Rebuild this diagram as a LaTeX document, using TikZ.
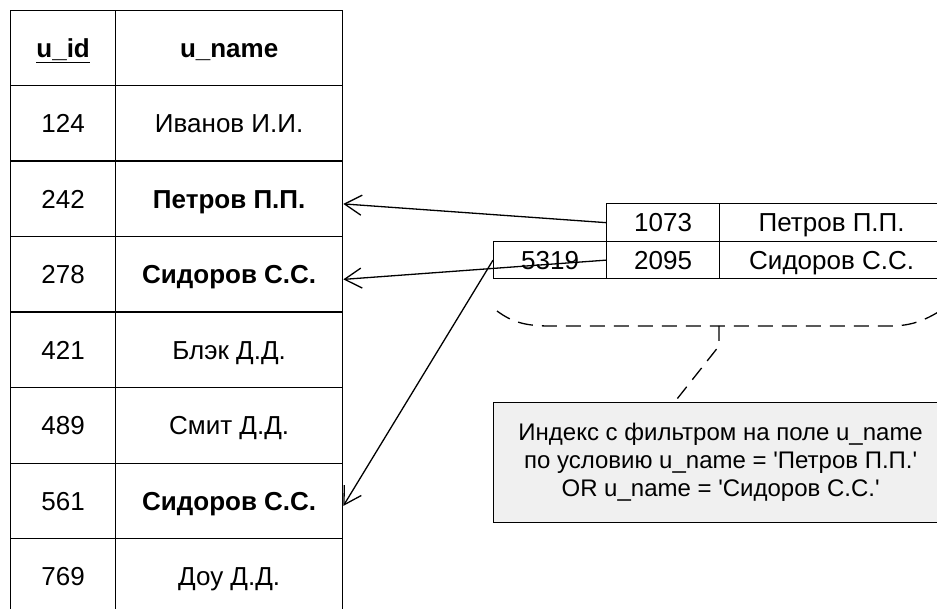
\documentclass[tikz,border=0pt]{standalone}
\usepackage{fontspec}
\setmainfont{Liberation Sans}
\usetikzlibrary{arrows.meta}
\definecolor{ink}{HTML}{000000}
\definecolor{note}{HTML}{F0F0F0}
\newcommand{\cell}[6]{\node[anchor=north west,draw=ink,line width=1.3pt,minimum width=#4pt,minimum height=#5pt,inner sep=0pt,text height=18.6pt,text depth=0pt,font=\fontsize{26}{30}\selectfont] (#1) at (#2,#3) {#6};}
\newcommand{\q}{\textquotesingle}

\begin{document}
\begin{tikzpicture}[x=1pt,y=-1pt,link/.style={draw=ink,line width=1.3pt,-{Straight Barb[length=17pt,width=20pt,line width=1.3pt]}},hint/.style={draw=ink,line width=1.3pt,dash pattern=on 15pt off 9pt}]
\clip (0,0) rectangle (937,609);
\cell{hid}{10}{10}{105}{75}{\underline{\textbf{u\_id}}}
\cell{hname}{115}{10}{227}{75}{\textbf{u\_name}}
\cell{i124}{10}{85}{105}{75.5}{124}
\cell{n124}{115}{85}{227}{75.5}{Иванов И.И.}
\cell{i242}{10}{160.5}{105}{75.5}{242}
\cell{n242}{115}{160.5}{227}{75.5}{\textbf{Петров П.П.}}
\cell{i278}{10}{236}{105}{75.5}{278}
\cell{n278}{115}{236}{227}{75.5}{\textbf{Сидоров С.С.}}
\cell{i421}{10}{311.5}{105}{75.5}{421}
\cell{n421}{115}{311.5}{227}{75.5}{Блэк Д.Д.}
\cell{i489}{10}{387}{105}{75.5}{489}
\cell{n489}{115}{387}{227}{75.5}{Смит Д.Д.}
\cell{i561}{10}{462.5}{105}{75.5}{561}
\cell{n561}{115}{462.5}{227}{75.5}{\textbf{Сидоров С.С.}}
\cell{i769}{10}{538}{105}{75.5}{769}
\cell{n769}{115}{538}{227}{75.5}{Доу Д.Д.}
\cell{k1073}{606}{203}{113}{38}{1073}
\cell{v1073}{719}{203}{224}{38}{Петров П.П.}
\cell{r5319}{493}{241}{113}{37}{5319}
\cell{k2095}{606}{241}{113}{37}{2095}
\cell{v2095}{719}{241}{224}{37}{Сидоров С.С.}
\node[anchor=north west,draw=ink,fill=note,line width=1.3pt,minimum width=454pt,minimum height=120pt,inner sep=0pt,align=center,font=\fontsize{24}{28}\selectfont] (idx) at (493,402) {Индекс с фильтром на поле u\_name\\по условию u\_name = \q Петров П.П.\q\\OR u\_name = \q Сидоров С.С.\q};
\draw[link] (k1073.west) -- ([yshift=-5pt]n242.east);
\draw[link] (k2095.west) -- ([yshift=-5pt]n278.east);
\draw[link] (r5319.west) -- ([yshift=-5pt]n561.east);
\coordinate (brace) at (719,326);
\draw[hint] (497,311) .. controls (512,322) and (525,326) .. (550,326) -- (890,326) .. controls (912,326) and (925,320) .. (940,311);
\draw[hint] (brace) -- ++(0,20) -- ([xshift=-46pt]idx.north);
\end{tikzpicture}
\end{document}
